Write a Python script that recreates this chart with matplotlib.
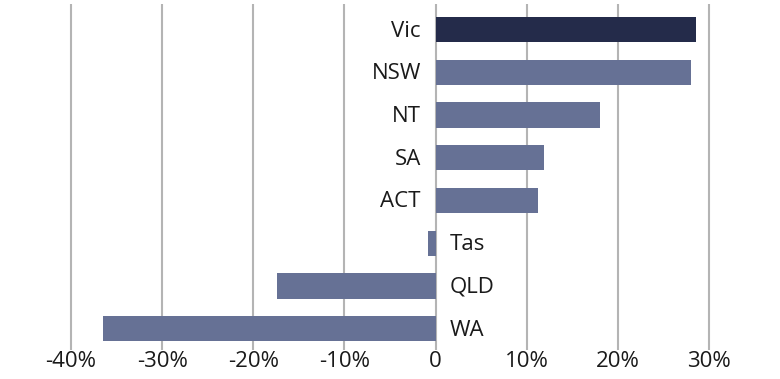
import matplotlib
matplotlib.use("Agg")
import matplotlib.pyplot as plt

states = ["Vic", "NSW", "NT", "SA", "ACT", "Tas", "QLD", "WA"]
values = [28.6, 28.0, 18.1, 11.9, 11.2, -0.8, -17.4, -36.5]
xticks = [-40, -30, -20, -10, 0, 10, 20, 30]
xticklabels = ["-40%", "-30%", "-20%", "-10%", "0", "10%", "20%", "30%"]

highlight = "#242B4A"
base = "#667195"
colors = [highlight if s == "Vic" else base for s in states]

plt.rcParams['font.family'] = ['Open Sans', 'DejaVu Sans']

fig = plt.figure(figsize=(7.8, 3.79), dpi=100)
ax = fig.add_axes([0, 1 - 350/379, 1, (350 - 4)/379])

y = list(range(len(states)))
ax.barh(y, values, height=0.59, color=colors, zorder=3)

ax.set_xlim(-47.8, 37.8)
ax.set_ylim(7.5, -0.6)
ax.set_xticks(xticks)
ax.set_xticklabels(xticklabels, fontsize=16, color="#1a1a1a")
ax.set_yticks([])
ax.tick_params(axis='x', length=0, pad=1)
for sp in ax.spines.values():
    sp.set_visible(False)
ax.grid(axis='x', color="#b4b4b4", linewidth=1.5, zorder=0)
ax.set_axisbelow(True)

for yi, s, v in zip(y, states, values):
    if v >= 0:
        ax.annotate(s, (0, yi), xytext=(-10.5, -1), textcoords='offset points',
                    ha='right', va='center', fontsize=16, color="#1a1a1a")
    else:
        ax.annotate(s, (0, yi), xytext=(10, -1), textcoords='offset points',
                    ha='left', va='center', fontsize=16, color="#1a1a1a")

fig.savefig("out.png", dpi=100)
